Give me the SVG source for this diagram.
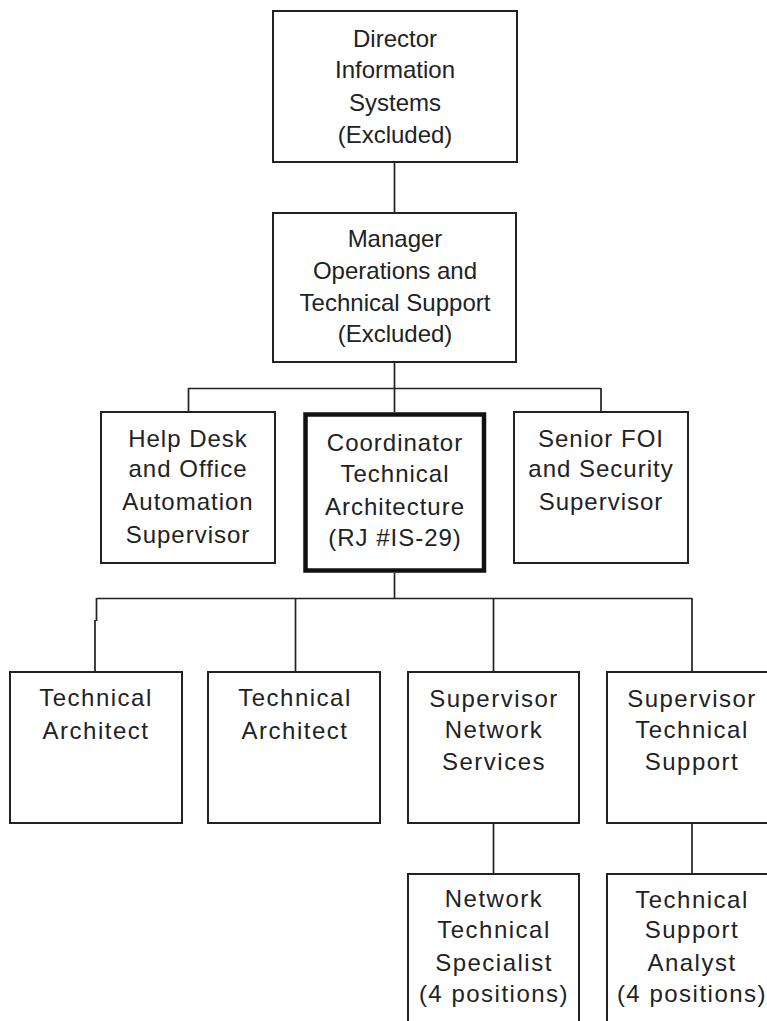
<svg xmlns="http://www.w3.org/2000/svg" width="767" height="1021" viewBox="0 0 767 1021">
<style>
.box{fill:#fff;stroke:#222;stroke-width:2}
.thick{fill:#fff;stroke:#111;stroke-width:4.5}
.t{font-family:"Liberation Sans",Arial,sans-serif;font-size:24px;fill:#222;text-anchor:middle}
.w{letter-spacing:1px}
.ww{letter-spacing:1.5px}
#connectors path{fill:none;stroke:#222;stroke-width:1.7}
</style>
<rect width="767" height="1021" fill="#fff"/>
<g id="connectors">
<path d="M394.5 162V213"/>
<path d="M394.5 362V412"/>
<path d="M188.5 388.5H601M188.5 388V412M601 388V412"/>
<path d="M394.5 573V598.5"/>
<path d="M96.5 598.5H692"/>
<path d="M96.5 598V621M95 620V672"/>
<path d="M295.5 598V672M493.5 598V672M692 598V672"/>
<path d="M493.5 823V874M692 823V874"/>
</g>
<g id="director">
<rect class="box" x="273" y="11" width="244" height="151"/>
<text class="t" x="395" y="47">Director</text>
<text class="t" x="395" y="78">Information</text>
<text class="t" x="395" y="111">Systems</text>
<text class="t" x="395" y="143">(Excluded)</text>
</g>
<g id="manager">
<rect class="box" x="273" y="213" width="243" height="149"/>
<text class="t" x="395" y="247">Manager</text>
<text class="t" x="395" y="279">Operations and</text>
<text class="t" x="395" y="311">Technical Support</text>
<text class="t" x="395" y="342">(Excluded)</text>
</g>
<g id="helpdesk">
<rect class="box" x="101" y="412" width="174" height="151"/>
<text class="t w" x="188" y="447">Help Desk</text>
<text class="t w" x="188" y="477">and Office</text>
<text class="t w" x="188" y="510">Automation</text>
<text class="t w" x="188" y="543">Supervisor</text>
</g>
<g id="coordinator">
<rect class="thick" x="305.5" y="414.5" width="178.5" height="156"/>
<text class="t w" x="395" y="451">Coordinator</text>
<text class="t w" x="395" y="482">Technical</text>
<text class="t w" x="395" y="515">Architecture</text>
<text class="t w" x="395" y="546">(RJ #IS-29)</text>
</g>
<g id="seniorfoi">
<rect class="box" x="514" y="412" width="174" height="151"/>
<text class="t w" x="601" y="447">Senior FOI</text>
<text class="t w" x="601" y="477">and Security</text>
<text class="t w" x="601" y="510">Supervisor</text>
</g>
<g id="techarch1">
<rect class="box" x="10" y="672" width="172" height="151"/>
<text class="t ww" x="96" y="706">Technical</text>
<text class="t ww" x="96" y="739">Architect</text>
</g>
<g id="techarch2">
<rect class="box" x="208" y="672" width="172" height="151"/>
<text class="t ww" x="295" y="706">Technical</text>
<text class="t ww" x="295" y="739">Architect</text>
</g>
<g id="supnetwork">
<rect class="box" x="408" y="672" width="171" height="151"/>
<text class="t ww" x="494" y="707">Supervisor</text>
<text class="t ww" x="494" y="738">Network</text>
<text class="t ww" x="494" y="770">Services</text>
</g>
<g id="suptech">
<rect class="box" x="607" y="672" width="172" height="151"/>
<text class="t ww" x="692" y="707">Supervisor</text>
<text class="t ww" x="692" y="738">Technical</text>
<text class="t ww" x="692" y="770">Support</text>
</g>
<g id="networkspecialist">
<rect class="box" x="408" y="874" width="171" height="160"/>
<text class="t ww" x="494" y="907">Network</text>
<text class="t ww" x="494" y="938">Technical</text>
<text class="t ww" x="494" y="971">Specialist</text>
<text class="t ww" x="494" y="1002">(4 positions)</text>
</g>
<g id="supportanalyst">
<rect class="box" x="607" y="874" width="172" height="160"/>
<text class="t ww" x="692" y="908">Technical</text>
<text class="t ww" x="692" y="938">Support</text>
<text class="t ww" x="692" y="971">Analyst</text>
<text class="t ww" x="692" y="1002">(4 positions)</text>
</g>
</svg>
